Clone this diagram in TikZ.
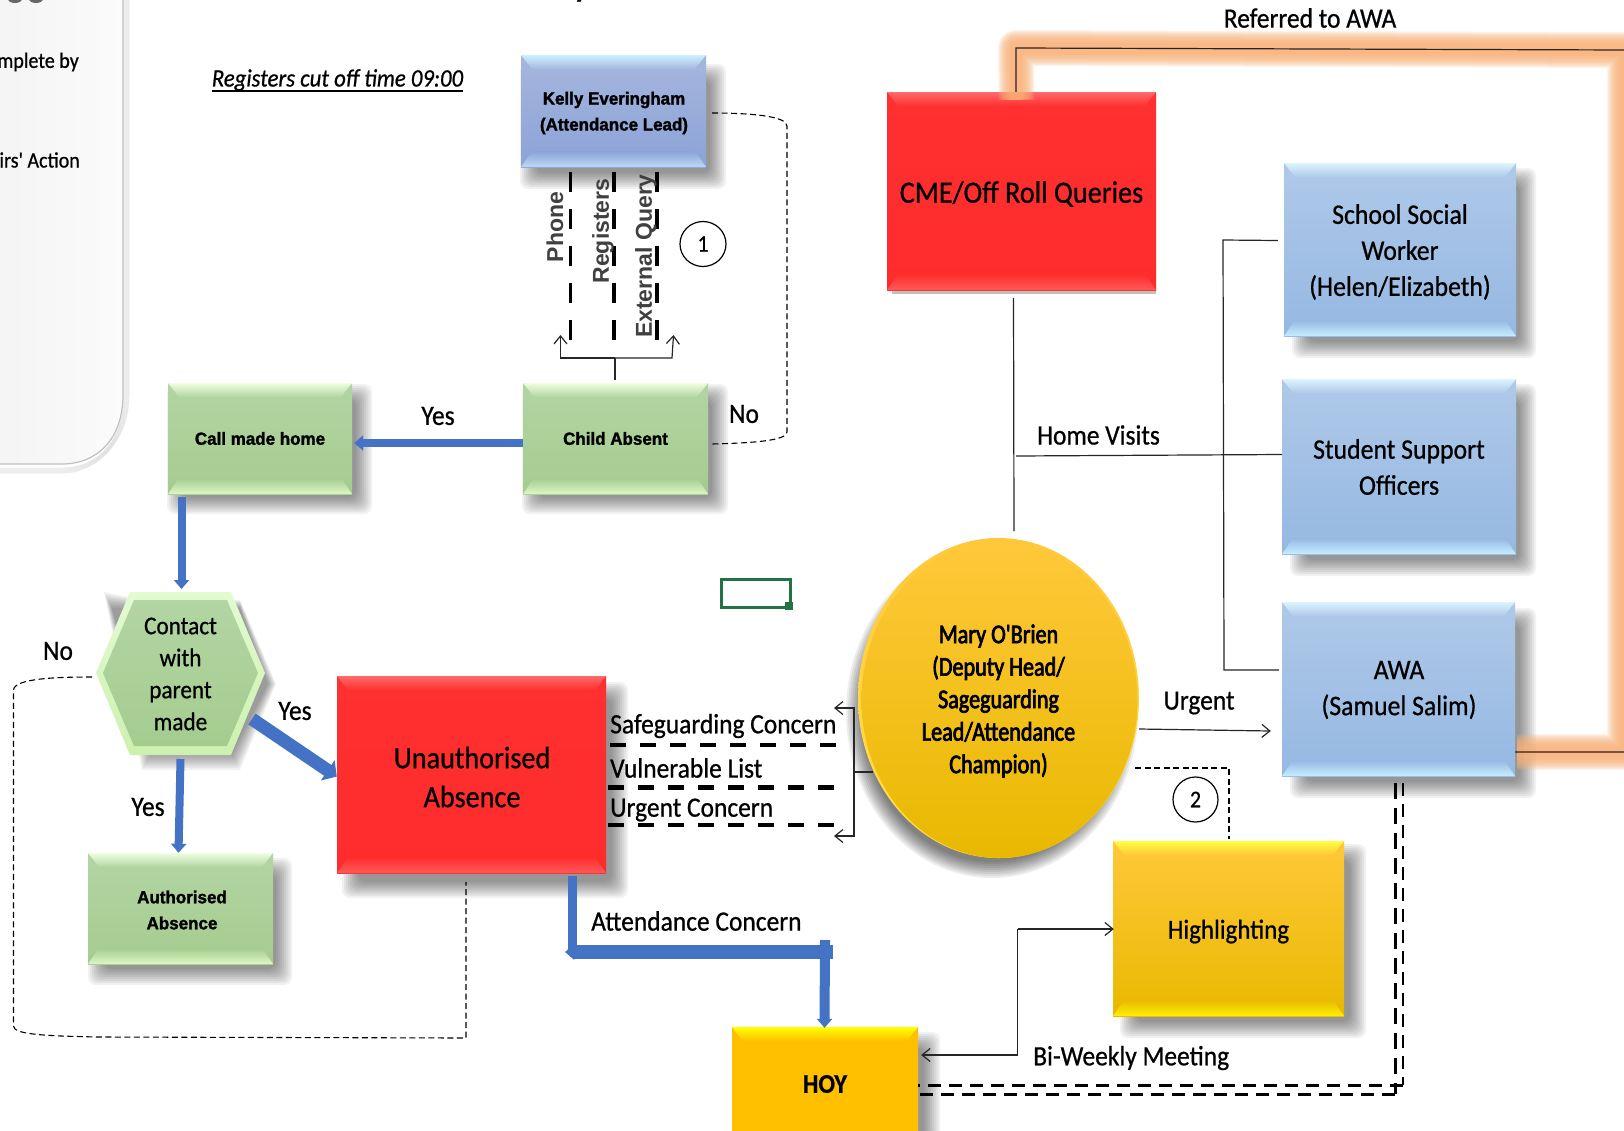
\documentclass[tikz,border=0pt]{standalone}
\usepackage{fontspec}
\usetikzlibrary{arrows.meta,calc,shapes.geometric}
\setmainfont{Carlito}
\newfontfamily\calf[FakeStretch=.91,FakeBold=.7]{Carlito}
\newfontfamily\calm[FakeStretch=.82,FakeBold=2.6]{Carlito}
\newfontfamily\arf[FakeStretch=.97,BoldFeatures={FakeBold=1.6}]{Liberation Sans}
\newfontfamily\arv{Liberation Sans}
\definecolor{arrowblue}{HTML}{4472C4}
\definecolor{glow}{HTML}{F9B27A}
\definecolor{panelgrey}{HTML}{F4F4F4}
\definecolor{panelend}{HTML}{FBFBFB}
\definecolor{grA}{HTML}{B2D5A3}\definecolor{grB}{HTML}{A5CC8F}\definecolor{grC}{HTML}{EEFFE0}\definecolor{grD}{HTML}{DDF7C5}
\definecolor{keA}{HTML}{A6B6DE}\definecolor{keB}{HTML}{8BA3D7}\definecolor{keC}{HTML}{C9F1FF}\definecolor{keD}{HTML}{BCD9F6}
\definecolor{skA}{HTML}{AFC9E8}\definecolor{skB}{HTML}{95B8E2}\definecolor{skC}{HTML}{DCF4FF}\definecolor{skD}{HTML}{C5EDFF}
\definecolor{reA}{HTML}{FF3030}\definecolor{reB}{HTML}{FF2C2C}\definecolor{reC}{HTML}{FF6A6A}\definecolor{reD}{HTML}{FF5A5A}
\definecolor{goA}{HTML}{FFC83A}\definecolor{goB}{HTML}{E8B900}\definecolor{goC}{HTML}{FFFF40}\definecolor{goD}{HTML}{FFF000}
\definecolor{hoA}{HTML}{FFC000}\definecolor{hoC}{HTML}{FFFF00}
\definecolor{hexrimA}{HTML}{E2FBD2}
\definecolor{hexrimB}{HTML}{CDF0AE}
\definecolor{maryrim}{HTML}{FFE14D}
\definecolor{cellgreen}{HTML}{217346}
\tikzset{
  plainline/.style={draw=black!85,line width=1.2pt},
  thindash/.style={draw=black,line width=1.1pt,dash pattern=on 6pt off 3.5pt},
  thickdash/.style={draw=black,line width=4.5pt,dash pattern=on 16pt off 14pt},
  vdash/.style={draw=black,line width=3.4pt,dash pattern=on 20pt off 17pt},
  dbldash/.style={draw=black,line width=3pt,dash pattern=on 13pt off 8pt},
  openarrow/.style={-{Straight Barb[length=8pt,width=13pt,line width=1.2pt]}},
  bluearrow/.style={draw=arrowblue,line width=#1,-{Triangle[length=9pt,width=15pt]}},
  bluearrow/.default=8pt,
  bigblue/.style={draw=arrowblue,line width=#1,-{Triangle[length=11pt,width=24pt]}},
  bluebar/.style={draw=arrowblue,line width=#1},
  smalltxt/.style={font=\arf\bfseries\fontsize{17.5}{26}\selectfont,align=center,text=black},
  bigtxt/.style 2 args={font=\calf\fontsize{#1}{#2}\selectfont,align=center,text=black},
  lbl/.style={font=\calf\fontsize{28}{30}\selectfont,text=black,inner sep=0pt},
  vlbl/.style={font=\arv\bfseries\fontsize{23}{25}\selectfont,text=black!75,rotate=90,inner sep=0pt},
  numcirc/.style={draw=black,line width=1.2pt,ellipse,inner sep=0pt,font=\calf\fontsize{24}{26}\selectfont},
  bevel/.style n args={4}{path picture={
    \shade[top color=#1,bottom color=#2] (path picture bounding box.south west) rectangle (path picture bounding box.north east);
    \shade[top color=#3,bottom color=#1]
      (path picture bounding box.north west) -- (path picture bounding box.north east)
      -- ($(path picture bounding box.north east)+(-11,14)$) -- ($(path picture bounding box.north west)+(11,14)$) -- cycle;
    \shade[top color=#2,bottom color=#4]
      (path picture bounding box.south west) -- (path picture bounding box.south east)
      -- ($(path picture bounding box.south east)+(-11,-16)$) -- ($(path picture bounding box.south west)+(11,-16)$) -- cycle;
  }},
  greenbox/.style={bevel={grA}{grB}{grC}{grD},inner sep=0pt},
  kellybox/.style={bevel={keA}{keB}{keC}{keD},inner sep=0pt},
  skybox/.style={bevel={skA}{skB}{skC}{skD},inner sep=0pt},
  redbox/.style={bevel={reA}{reB}{reC}{reD},inner sep=0pt},
  goldbox/.style={bevel={goA}{goB}{goC}{goD},inner sep=0pt},
  hoybox/.style={bevel={hoA}{hoA}{hoC}{hoA},inner sep=0pt},
}
% soft shadow: stack of translucent rounded rectangles
\newcommand{\softshadow}[4]{%
  \foreach \s in {0,2,...,16}{\fill[black,opacity=.055,rounded corners=8pt]
    (#1-8+\s,#2-8+\s) rectangle (#3+8-\s,#4+8-\s);}}
% box given by its corners
\newcommand{\boxnode}[7]{%
  \node[#1,minimum width={(#5-#3)*1pt},minimum height={(#6-#4)*1pt}] (#2) at ({(#3+#5)/2},{(#4+#6)/2}) {#7};}
\begin{document}
\begin{tikzpicture}[x=1pt,y=-1pt]
\useasboundingbox (0,0) rectangle (1624,1130);
\clip (0,0) rectangle (1624,1130);
\fill[white] (0,0) rectangle (1624,1130);

% cut-off panel on the left
\foreach \s in {0,1,...,5}{\draw[black,opacity=.07,line width=1pt]
  (124+\s,-10) -- (124+\s,395) .. controls (124+\s,440) and (98,468+\s) .. (62,468+\s) -- (-10,468+\s);}
\shade[left color=panelgrey,right color=panelend] (-10,-10) -- (123,-10) -- (123,395) .. controls (123,438) and (98,464) .. (62,464) -- (-10,464) -- cycle;
\draw[black!25,line width=1.2pt] (123,-10) -- (123,395) .. controls (123,438) and (98,464) .. (62,464) -- (-10,464);
\node[lbl,anchor=east,font=\calf\fontsize{22}{24}\selectfont] (panelA) at (79,62) {mplete by};
\node[lbl,anchor=east,font=\calf\fontsize{22}{24}\selectfont] (panelB) at (80,160) {irs' Action};
\fill[black!60] (15,-1) ellipse (7 and 4) (36,-1) ellipse (7 and 4);
\node[anchor=base,inner sep=0pt,font=\calf\bfseries\fontsize{30}{32}\selectfont] (titlefrag) at (581,-3) {y};

% shadows
\softshadow{528}{72}{718}{181}
\softshadow{175}{392}{364}{506}
\softshadow{530}{392}{720}{506}
\softshadow{96}{866}{284}{977}
\softshadow{350}{690}{620}{890}
\softshadow{1300}{176}{1528}{350}
\softshadow{1298}{392}{1528}{568}
\softshadow{1298}{616}{1528}{790}
\softshadow{1128}{852}{1358}{1030}
\softshadow{745}{1040}{932}{1150}
\foreach \s in {0,2,...,16}{\fill[black,opacity=.07] (992,712) ellipse ({146-\s} and {166-\s});}
\foreach \s in {0,2,...,16}{\fill[black,opacity=.05] (104+\s/2,592+\s) -- (142,600+\s/2) -- (240,600+\s/2) -- (276-\s/2,684) -- (240-\s/2,770-\s) -- (142+\s/2,770-\s) -- cycle;}
\fill[black,opacity=.25] (892,286) rectangle (1156,294);

% boxes
\boxnode{kellybox}{kelly}{521}{55}{706}{167}{}
\node[smalltxt] (kellyt) at (614,113) {Kelly Everingham\\(Attendance Lead)};
\boxnode{greenbox}{child}{523}{383}{708}{494}{\arf\bfseries\fontsize{17.5}{20}\selectfont Child Absent}
\boxnode{greenbox}{callhome}{168}{383}{352}{494}{\arf\bfseries\fontsize{17.5}{20}\selectfont Call made home}
\boxnode{greenbox}{authab}{88}{853}{273}{964}{}
\node[smalltxt] (autht) at (182,910) {Authorised\\Absence};
\boxnode{redbox}{unauth}{337}{676}{606}{873}{}
\node[bigtxt={31}{39}] (unautht) at (472,777) {Unauthorised\\Absence};
\boxnode{redbox}{cme}{887}{92}{1156}{290}{}
\node[bigtxt={31}{34}] (cmet) at (1021.5,194) {CME/Off Roll Queries};
\boxnode{skybox}{ssw}{1284}{163}{1516}{336}{}
\node[bigtxt={28.3}{36}] (sswt) at (1400,252) {School Social\\Worker\\(Helen/Elizabeth)};
\boxnode{skybox}{sso}{1282}{379}{1516}{554}{}
\node[bigtxt={28.3}{36}] (ssot) at (1399,467) {Student Support\\Officers};
\boxnode{skybox}{awa}{1282}{602}{1515}{776}{}
\node[bigtxt={28.3}{36}] (awat) at (1399,690) {AWA\\(Samuel Salim)};
\boxnode{goldbox}{high}{1113}{841}{1344}{1016}{}
\node[bigtxt={27.5}{34}] (hight) at (1228.5,931.5) {Highlighting};
\boxnode{hoybox}{hoy}{732}{1027}{918}{1141}{\calf\bfseries\fontsize{27}{30}\selectfont HOY}

% hexagon
\shade[top color=hexrimA,bottom color=hexrimB] (130,592) -- (231,592) -- (265,673) -- (231,755) -- (130,755) -- (96,673) -- cycle;
\shade[top color=grA,bottom color=grB] (134,600) -- (227,600) -- (258,673) -- (227,746) -- (134,746) -- (103,673) -- cycle;
\node[bigtxt={25.5}{32},text=black,align=center] (hext) at (180.5,674) {Contact\\with\\parent\\made};

% circle
\node[ellipse,inner sep=0pt,minimum width=281pt,minimum height=320pt,top color=goA,bottom color=maryrim] (mary) at (998.5,698) {};
\shade[top color=goA,bottom color=goB] (999.5,700) ellipse (138 and 158);
\node[font=\calm\fontsize{27}{32.5}\selectfont,align=center,text=black] (maryt) at (998.5,701) {Mary O'Brien\\(Deputy Head/\\Sageguarding\\Lead/Attendance\\Champion)};

% orange link CME -- AWA
\coordinate (tl) at (1016,48);
\coordinate (tr) at (1625,50);
\coordinate (br) at (1625,752);
\foreach \w in {36,34,...,10}{\draw[glow,opacity=.14,line width=\w pt,line join=round] ([xshift=-5pt,yshift=-8pt]cme.north) -- (tl) -- (tr) -- (br) -- ([xshift=2pt,yshift=-63pt]awa.east);}
\draw[plainline] ([xshift=-5.5pt]cme.north) -- (tl) -- (tr) -- (br) -- ([yshift=-63pt]awa.east);

% thin connectors
\coordinate (cmeLow) at (1013.5,298);
\coordinate (maryTop) at (1014,531);
\draw[plainline] (cmeLow) -- (maryTop);
\coordinate (hv) at (1016,456);
\draw[plainline] (hv) -- ([yshift=12pt]sso.west);
\coordinate (busW) at (1223,240);
\coordinate (busS) at (1224,670);
\draw[plainline] ([xshift=-6pt,yshift=9pt]ssw.west) -- (busW) -- (busS) -- ([xshift=-3pt,yshift=19pt]awa.west);
\draw[plainline,openarrow] ([yshift=-31pt]mary.east) -- ([xshift=-11pt,yshift=-42pt]awa.west);

\coordinate (d2a) at (1135,768);
\coordinate (d2b) at (1229,768);
\draw[thindash] (d2a) -- (d2b) -- ([xshift=.5pt,yshift=2pt]high.north);
\coordinate (hbend) at (1017.5,929);
\coordinate (hbend2) at (1017.5,1055);
\draw[plainline,openarrow] (hbend) -- ([xshift=1pt]high.west |- hbend);
\draw[plainline,openarrow] (hbend) -- (hbend2) -- ([xshift=3pt]hoy.east |- hbend2) ;

% double dashed AWA -- HOY
\coordinate (dA) at (1403,783);
\coordinate (dAb) at (1403,1085);
\coordinate (dB) at (1395,783);
\coordinate (dBb) at (1395,1094);
\draw[dbldash,line width=1.9pt] (dA) -- (dAb);
\draw[dbldash] (dAb) -- (hoy.east |- dAb);
\draw[dbldash,dash pattern=on 16pt off 9pt] (dB) -- (dBb);
\draw[dbldash] (dBb) -- (hoy.east |- dBb);

% dashed Kelly -- Child
\coordinate (k1) at (712,113);
\coordinate (c1) at (712,444);
\draw[thindash] (k1) .. controls (750,113) and (787,116) .. (787,126) -- (787,432) .. controls (787,441) and (750,443) .. (c1);

% dashed hexagon / unauthorised loop
\coordinate (l1) at (92,677);
\coordinate (l2) at (466,1038);
\coordinate (l3) at (466,882);
\draw[thindash] (l1) .. controls (60,677) and (14,678) .. (13.5,690) -- (13.5,1026) .. controls (13.5,1034) and (40,1036) .. (100,1037) -- (l2) -- (l3);

% vertical dashed bundle
\coordinate (v1t) at (570.5,172); \coordinate (v1b) at (570.5,342);
\coordinate (v2t) at (614,172); \coordinate (v2b) at (614,342);
\coordinate (v3t) at (657,172); \coordinate (v3b) at (657,342);
\draw[vdash] (v1t) -- (v1b);
\draw[vdash] (v2t) -- (v2b);
\draw[vdash] (v3t) -- (v3b);

% brace above Child Absent
\coordinate (bm) at (615,358);
\coordinate (bl) at (560.5,358);
\coordinate (br2) at (672,358);
\draw[plainline] ([xshift=-.5pt,yshift=3pt]child.north) -- (bm);
\draw[plainline,openarrow] (bm) -- (bl) -- ++(0,-23);
\draw[plainline,openarrow] (bm) -- (br2) -- ++(1.5,-23);

% horizontal thick dashes
\coordinate (h1) at (610,745); \coordinate (h1e) at (847,745);
\coordinate (h2) at (608,787.5); \coordinate (h2e) at (845,787.5);
\coordinate (h3) at (608,825); \coordinate (h3e) at (848,825);
\draw[thickdash] (h1) -- (h1e);
\draw[thickdash] (h2) -- (h2e);
\draw[thickdash] (h3) -- (h3e);

% brace beside Mary
\coordinate (bc) at (854,772);
\coordinate (bt) at (854,708);
\coordinate (bb) at (854,836);
\draw[plainline] (873,772) -- (bc);
\draw[plainline,openarrow] (bc) -- (bt) -- ++(-20,0);
\draw[plainline,openarrow] (bc) -- (bb) -- ++(-20,0);

% blue arrows
\draw[bluearrow] ([yshift=-4.5pt]child.west) -- ([xshift=2pt,yshift=-4.5pt]callhome.east);
\draw[bluearrow] ([xshift=-78.5pt,yshift=-3pt]callhome.south) -- (181.5,589);
\draw[bluearrow] (180.5,759) -- ([xshift=-2pt]authab.north);
\draw[bigblue=13pt] (252,719) -- ([yshift=-2pt]unauth.west);
\coordinate (e1) at (572.5,952);
\coordinate (e2) at (833,952);
\coordinate (e3) at (825,940);
\draw[bluebar=9pt] ([xshift=101pt,yshift=-3pt]unauth.south) -- (e1);
\draw[bluearrow=14pt] (e2) -- (565,952);
\draw[bluearrow=10pt] (e3) -- ([xshift=-.5pt,yshift=-1pt]hoy.north);

% numbered circles
\node[numcirc,minimum width=46pt,minimum height=45pt] (n1) at (703,244) {1};
\node[numcirc,minimum width=45pt,minimum height=45pt] (n2) at (1195.5,799.5) {2};

% selection rectangle
\node[draw=cellgreen,line width=2.5pt,minimum width=69pt,minimum height=28pt,inner sep=0pt] (cell) at (756,593.5) {};
\fill[cellgreen] (785,602) rectangle (793,610);

% labels
\node[lbl,anchor=center,font=\calf\itshape\fontsize{25}{27}\selectfont] (cutoff) at (337.5,80) {Registers cut off time 09:00};
\draw[black,line width=1.5pt] (cutoff.south west) -- (cutoff.south east);
\node[lbl] (yes1) at (438,416) {Yes};
\node[lbl] (no1) at (744,414) {No};
\node[vlbl] (phone) at (555,227) {Phone};
\node[vlbl] (regs) at (603,231) {Registers};
\node[vlbl] (extq) at (646,256) {External Query};
\node[lbl] (refawa) at (1310,18) {Referred to AWA};
\node[lbl] (home) at (1098.5,435) {Home Visits};
\node[lbl] (yes2) at (295,711) {Yes};
\node[lbl] (yes3) at (148,807) {Yes};
\node[lbl] (no2) at (58,651) {No};
\node[lbl,anchor=west] (safe) at (610,726) {Safeguarding Concern};
\node[lbl,anchor=west] (vuln) at (610,768) {Vulnerable List};
\node[lbl,anchor=west] (urgc) at (610,810) {Urgent Concern};
\node[lbl,anchor=west] (attc) at (591,921) {Attendance Concern};
\node[lbl] (urg) at (1199,703) {Urgent};
\node[lbl,anchor=west] (biw) at (1033,1058) {Bi-Weekly Meeting};
\end{tikzpicture}
\end{document}
